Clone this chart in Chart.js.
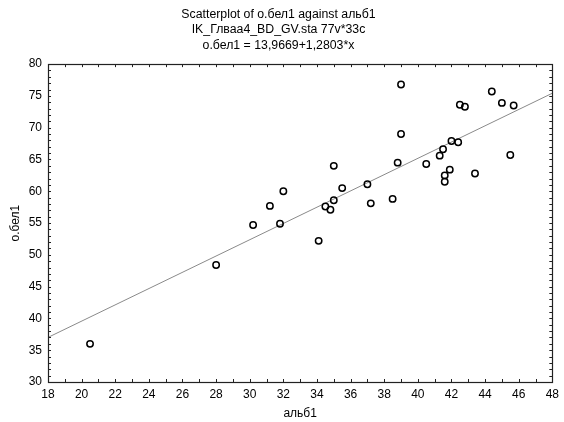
<!DOCTYPE html>
<html>
<head>
<meta charset="utf-8">
<script src="https://cdn.jsdelivr.net/npm/chart.js@4/dist/chart.umd.min.js"></script>
<style>
  html, body { margin: 0; padding: 0; background: #fff; }
  #wrap { width: 564px; height: 422px; }
</style>
</head>
<body>
<div id="wrap"><canvas id="c" width="564" height="422"></canvas></div>
<script>
// альб1 (x) and о.бел1 (y) for the 33 cases
const albValues = [
  20.5, 28.0, 30.2, 31.2, 31.8, 32.0, 34.1, 34.5, 34.8, 35.0, 35.0,
  35.5, 37.0, 37.2, 38.5, 38.8, 39.0, 39.0, 40.5, 41.3, 41.5, 41.9,
  41.6, 41.6, 42.0, 42.4, 42.5, 42.8, 43.4, 44.4, 45.0, 45.7, 45.5
];
const obelValues = [
  36.0, 48.4, 54.7, 57.7, 54.9, 60.0, 52.2, 57.6, 57.1, 58.6, 64.0,
  60.5, 61.1, 58.1, 58.8, 64.5, 76.8, 69.0, 64.3, 65.6, 66.6, 63.4,
  62.5, 61.5, 67.9, 67.7, 73.6, 73.3, 62.8, 75.7, 73.9, 73.5, 65.7
];

// Tick labels on both axes
const xTickValues = [18, 20, 22, 24, 26, 28, 30, 32, 34, 36, 38, 40, 42, 44, 46, 48];
const yTickValues = [30, 35, 40, 45, 50, 55, 60, 65, 70, 75, 80];

// Fitted regression: о.бел1 = 13,9669 + 1,2803 * альб1
const intercept = 13.9669;
const slope = 1.2803;

const titleLines = [
  'Scatterplot of о.бел1 against альб1',
  'IK_Глваа4_BD_GV.sta 77v*33c',
  'о.бел1 = 13,9669+1,2803*x'
];

const xMin = xTickValues[0], xMax = xTickValues[xTickValues.length - 1];
const yMin = yTickValues[0], yMax = yTickValues[yTickValues.length - 1];

const points = albValues.map((x, i) => ({ x: x, y: obelValues[i] }));
const fitLine = [xMin, xMax].map(x => ({ x: x, y: intercept + slope * x }));

const FONT = "'Liberation Sans', Arial, sans-serif";

// Frame around the plot area with short inward minor ticks on all four sides
const framePlugin = {
  id: 'frame',
  afterDraw(chart) {
    const { ctx, chartArea: a, scales } = chart;
    const xs = scales.x, ys = scales.y;
    const len = 3;
    ctx.save();
    ctx.strokeStyle = '#222';
    ctx.lineWidth = 1;
    ctx.beginPath();
    for (let v = xMin + 1; v < xMax; v++) {
      const px = Math.round(xs.getPixelForValue(v)) + 0.5;
      ctx.moveTo(px, a.bottom); ctx.lineTo(px, a.bottom - len);
      ctx.moveTo(px, a.top); ctx.lineTo(px, a.top + len);
    }
    for (let v = yMin + 1; v < yMax; v++) {
      const py = Math.round(ys.getPixelForValue(v)) + 0.5;
      ctx.moveTo(a.left, py); ctx.lineTo(a.left + len, py);
      ctx.moveTo(a.right, py); ctx.lineTo(a.right - len, py);
    }
    ctx.stroke();
    ctx.lineWidth = 1.2;
    ctx.strokeRect(Math.round(a.left) + 0.5, Math.round(a.top) + 0.5,
                   Math.round(a.right - a.left), Math.round(a.bottom - a.top));
    ctx.restore();
  }
};

new Chart(document.getElementById('c'), {
  type: 'scatter',
  data: {
    datasets: [
      {
        label: 'fit',
        type: 'line',
        data: fitLine,
        borderColor: '#8a8a8a',
        borderWidth: 1,
        pointRadius: 0,
        fill: false,
        order: 2
      },
      {
        label: 'о.бел1',
        data: points,
        pointStyle: 'circle',
        pointRadius: 3.2,
        pointBorderWidth: 1.5,
        pointBorderColor: '#000',
        pointBackgroundColor: 'rgba(255,255,255,0)',
        order: 1
      }
    ]
  },
  options: {
    responsive: false,
    animation: false,
    devicePixelRatio: 1,
    layout: { padding: { left: 0, right: 7, top: 0, bottom: 0 } },
    plugins: {
      legend: { display: false },
      tooltip: { enabled: false },
      title: {
        display: true,
        text: titleLines,
        color: '#000',
        font: { family: FONT, size: 12.3, weight: 'normal', lineHeight: 1.25 },
        padding: { top: 7, bottom: 11 }
      }
    },
    scales: {
      x: {
        type: 'linear',
        min: xMin,
        max: xMax,
        afterBuildTicks: s => { s.ticks = xTickValues.map(v => ({ value: v })); },
        afterFit: s => { s.height = 40; },
        grid: { display: false, drawTicks: false },
        border: { display: false },
        ticks: { color: '#000', font: { family: FONT, size: 12 }, padding: 5, maxRotation: 0, autoSkip: false },
        title: { display: true, text: 'альб1', color: '#000', font: { family: FONT, size: 12 }, padding: { top: 1, bottom: 1 } }
      },
      y: {
        type: 'linear',
        min: yMin,
        max: yMax,
        afterBuildTicks: s => { s.ticks = yTickValues.map(v => ({ value: v })); },
        afterFit: s => { s.width = 48; },
        grid: { display: false, drawTicks: false },
        border: { display: false },
        ticks: { color: '#000', font: { family: FONT, size: 12 }, padding: 6, autoSkip: false },
        title: { display: true, text: 'о.бел1', color: '#000', font: { family: FONT, size: 12 }, padding: { top: 8, bottom: 0 } }
      }
    }
  },
  plugins: [framePlugin]
});
</script>
</body>
</html>
